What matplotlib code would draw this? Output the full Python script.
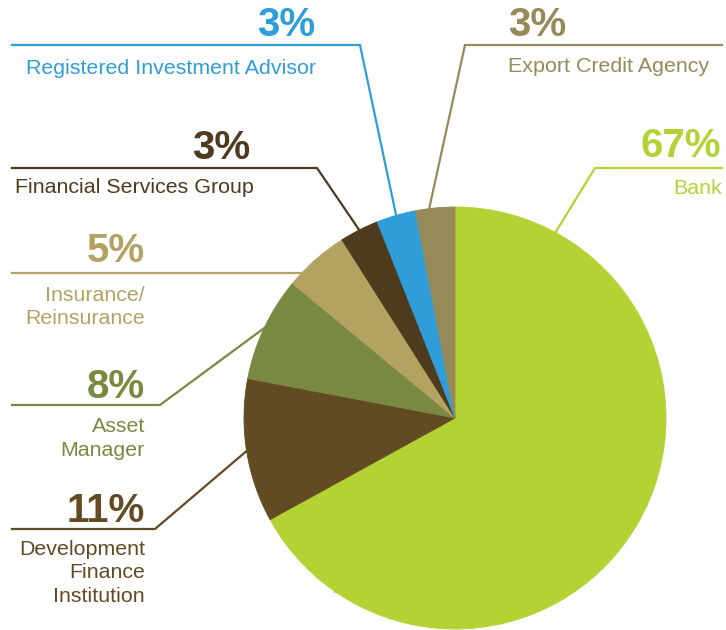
import numpy as np
import matplotlib.pyplot as plt

plt.rcParams['font.family'] = ['Liberation Sans', 'DejaVu Sans']

# data
categories = ['Bank', 'Development Finance Institution', 'Asset Manager',
              'Insurance/Reinsurance', 'Financial Services Group',
              'Registered Investment Advisor', 'Export Credit Agency']
shares = [67, 11, 8, 5, 3, 3, 3]
label_lines = [['Bank'], ['Development', 'Finance', 'Institution'], ['Asset', 'Manager'],
               ['Insurance/', 'Reinsurance'], ['Financial Services Group'],
               ['Registered Investment Advisor'], ['Export Credit Agency']]
colors = ['#b3d234', '#624a22', '#7a8941', '#b3a262', '#4e3b1e', '#2f9dd8', '#968a58']

# layout in pixels (y down): pct (x, baseline, ha), rule (x0, corner, y),
# label (x, first baseline, ha), position of leader end inside the wedge
layout = {
    'Bank': dict(pct=(721, 157, 'right'), rule=(722, 595, 168), lab=(722, 194, 'right'), frac=0.89),
    'Development Finance Institution': dict(pct=(145, 522, 'right'), rule=(12, 155, 529), lab=(145, 555, 'right'), frac=0.5),
    'Asset Manager': dict(pct=(145, 398, 'right'), rule=(12, 160, 405), lab=(145, 432, 'right'), frac=0.5),
    'Insurance/Reinsurance': dict(pct=(145, 262, 'right'), rule=(12, None, 273), lab=(145, 301, 'right'), frac=0.6),
    'Financial Services Group': dict(pct=(250, 159, 'right'), rule=(12, 317, 168), lab=(15, 193, 'left'), frac=0.5),
    'Registered Investment Advisor': dict(pct=(315, 36, 'right'), rule=(12, 360, 45), lab=(26, 74, 'left'), frac=0.5),
    'Export Credit Agency': dict(pct=(508, 36, 'left'), rule=(722, 465, 45), lab=(508, 72, 'left'), frac=0.35),
}

W, H = 726, 630
cx, cy, R = 455, 418, 211
line_step = 23.5

fig = plt.figure(figsize=(W / 100, H / 100), dpi=100)
ax = fig.add_axes([0, 0, 1, 1])

# y axis is inverted below, so counterclockwise in data = clockwise on screen
wedges, _ = ax.pie(shares, colors=colors, startangle=-90, counterclock=True,
                   center=(cx, cy), radius=R)
for w, col in zip(wedges, colors):
    w.set_edgecolor(col)
    w.set_linewidth(0.6)
    w.set_zorder(3)
ax.set_xlim(0, W)
ax.set_ylim(H, 0)
ax.set_aspect('equal')
ax.axis('off')

for cat, lines, w, col, val in zip(categories, label_lines, wedges, colors, shares):
    lo = layout[cat]
    ang = np.deg2rad(w.theta1 + lo['frac'] * (w.theta2 - w.theta1))
    ex, ey = cx + R * np.cos(ang), cy + R * np.sin(ang)
    x0, xc, y = lo['rule']
    if xc is None:
        xs, ys = [x0, ex], [y, y]
    else:
        xs, ys = [x0, xc, ex], [y, y, ey]
    ax.plot(xs, ys, color=col, lw=1.6, solid_joinstyle='miter', zorder=2)

    px, py, pha = lo['pct']
    ax.text(px, py, f'{val}%', color=col, fontsize=29, fontweight='bold',
            ha=pha, va='baseline')
    lx, ly, lha = lo['lab']
    for i, s in enumerate(lines):
        ax.text(lx, ly + i * line_step, s, color=col, fontsize=15.4,
                ha=lha, va='baseline')

fig.savefig('out.png', dpi=100)
